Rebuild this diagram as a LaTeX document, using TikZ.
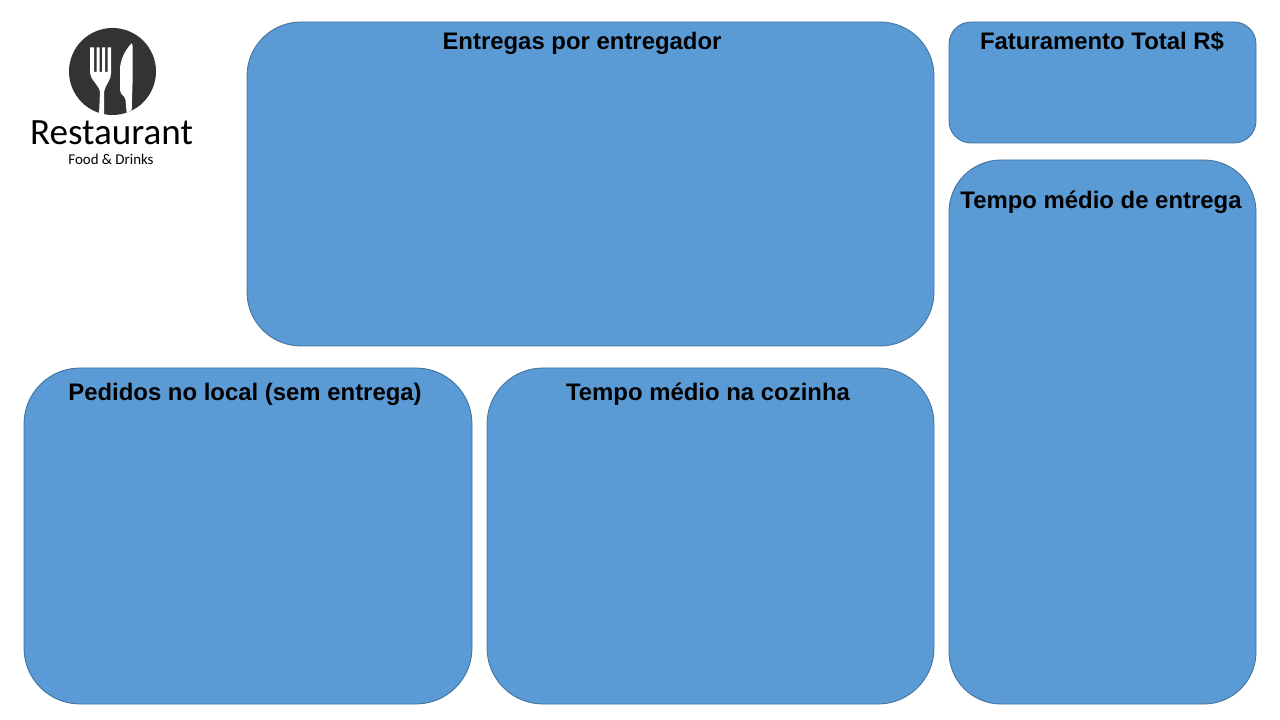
\documentclass[tikz,border=0pt]{standalone}
\usepackage{fontspec}
\usepackage{xcolor}
\setmainfont{Liberation Sans}
\newfontfamily\logofont{Carlito}
\definecolor{panelblue}{RGB}{91,155,213}
\definecolor{panelline}{RGB}{65,113,156}
\definecolor{logogray}{RGB}{51,51,51}
\tikzset{
  panel/.style={fill=panelblue,draw=panelline,line width=0.6pt},
  paneltitle/.style={font=\bfseries\fontsize{17}{20}\selectfont,text=black,inner sep=0pt},
}

\begin{document}
\begin{tikzpicture}[x=0.025cm,y=-0.025cm]
  \useasboundingbox (0,0) rectangle (1280,720);
  % panels
  \draw[panel,rounded corners=1.35cm](247,22)rectangle(934,346);
  \node[paneltitle] (entregas) at (582,43) {Entregas por entregador};
  \draw[panel,rounded corners=0.55cm](949,22)rectangle(1256,143);
  \node[paneltitle] (faturamento) at (1102,42) {Faturamento Total R\$};
  \draw[panel,rounded corners=1.3cm](949,160)rectangle(1256,704);
  \node[paneltitle] (tempoentrega) at (1101,202) {Tempo médio de entrega};
  \draw[panel,rounded corners=1.4cm](24,368)rectangle(472,704);
  \node[paneltitle] (pedidos) at (245,394) {Pedidos no local (sem entrega)};
  \draw[panel,rounded corners=1.4cm](487,368)rectangle(934,704);
  \node[paneltitle] (cozinha) at (708,394) {Tempo médio na cozinha};
  % logo
  \fill[logogray](112.5,71.5)circle(43.5);
  \fill[white](90,47.5)--(90,73) .. controls (90.5,80) and (99,85) .. (100,92)--(99,115)--(104,115)--(104,92) .. controls (105,85) and (111.5,80) .. (111,73)--(111,47.5)--(107.5,47.5)--(107.5,72)--(105,72)--(105,47.5)--(102,47.5)--(102,72)--(99.5,72)--(99.5,47.5)--(96.5,47.5)--(96.5,72)--(94,72)--(94,47.5)--cycle;
  \fill[white](131.7,43.3) .. controls (125,50) and (120,60) .. (120,70)--(120,90) .. controls (120.5,96) and (125,95) .. (125.5,100)--(126.7,113)--(131.7,110)--(132.7,78)--(132.7,46)--cycle;
  \node[font=\logofont\fontsize{26.4}{30}\selectfont,inner sep=0pt] (restaurant) at (111.5,133) {Restaurant};
  \node[font=\logofont\fontsize{10.6}{13}\selectfont,inner sep=0pt] (fooddrinks) at (111,159) {Food \& Drinks};
\end{tikzpicture}
\end{document}
